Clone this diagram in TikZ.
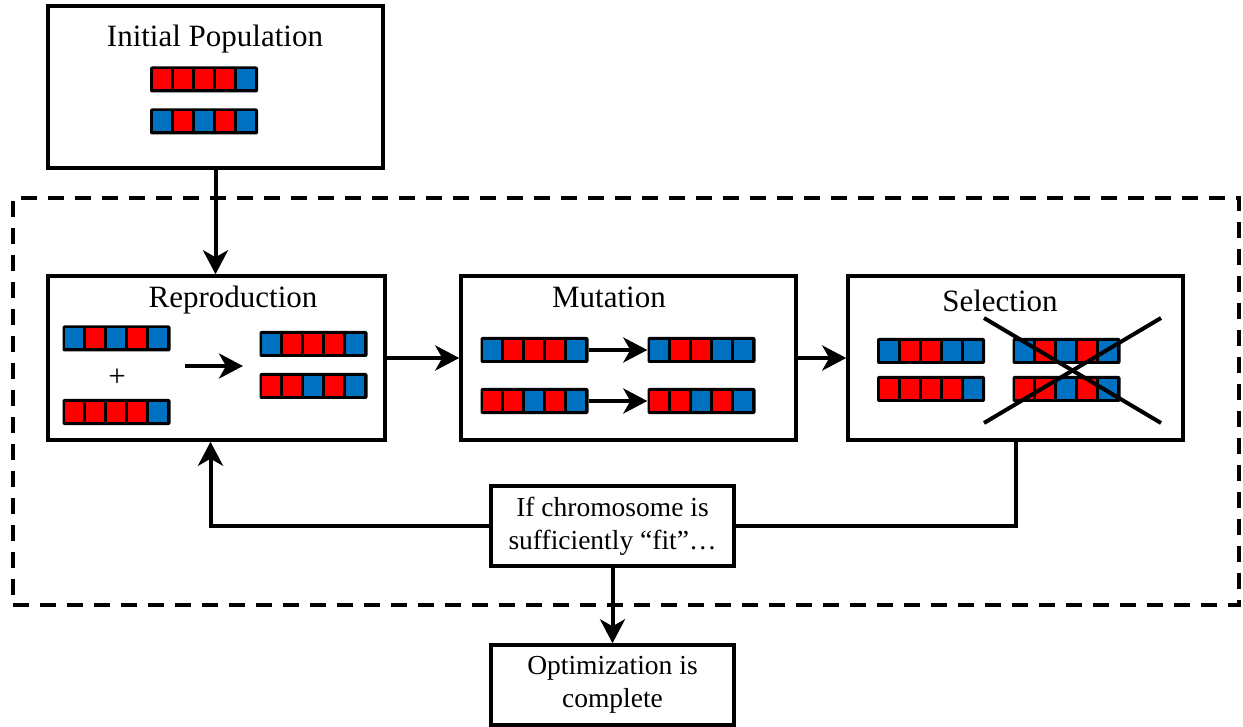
\documentclass[tikz,border=0pt]{standalone}
\usepackage{fontspec}
\setmainfont{Liberation Serif}
\usetikzlibrary{arrows.meta}
\definecolor{R}{RGB}{255,0,0}
\definecolor{B}{RGB}{0,112,192}
\tikzset{
	box/.style={draw, line width=3.5pt, minimum width=335pt, minimum height=164pt, inner sep=0pt},
	txtbox/.style={draw, line width=3.5pt, minimum width=243pt, minimum height=80pt, inner sep=0pt, align=center, font=\fontsize{27.5}{33}\selectfont},
	title/.style={anchor=base, inner sep=0pt, font=\fontsize{31}{36}\selectfont},
	chromo/.style={fill=black, rounded corners=2pt, minimum width=108pt, minimum height=26pt, inner sep=0pt},
	flow/.style={line width=4pt, -{Stealth[length=24pt, width=25pt, inset=7pt]}},
	link/.style={line width=4pt}
}
% chromosome: name, centre, genes
\newcommand{\chrom}[3]{
	\node [chromo] (#1) at (#2) {};
	\foreach \g [count=\i] in {#3} {
		\fill [\g] ([shift={(\i*21-18,-10)}]#1.west) rectangle ++(18,20);
	}
}
\begin{document}
\begin{tikzpicture}[x=1pt, y=-1pt]
	\useasboundingbox (0,0) rectangle (1243,727);
	% start
	\node [box, minimum height=162pt] (init) at (215.5,87) {};
	\node [title] (initT) at (215,47) {Initial Population};
	\chrom{init1}{204,79.5}{R,R,R,R,B}
	\chrom{init2}{204,121.5}{B,R,B,R,B}
	% loop
	\node [draw, dashed, line width=3.5pt, dash pattern=on 16pt off 11pt, minimum width=1226pt, minimum height=407pt] (loop) at (626,401.5) {};
	\node [box, minimum width=337pt] (rep) at (216.5,358) {};
	\node [box] (mut) at (628.5,358) {};
	\node [box] (sel) at (1015.5,358) {};
	\node [title] (repT) at (233,308) {Reproduction};
	\node [title] (mutT) at (609,308) {Mutation};
	\node [title] (selT) at (1000,312) {Selection};
	% reproduction
	\chrom{p1}{116.5,338.5}{B,R,B,R,B}
	\node [title] (plus) at (117,387) {+};
	\chrom{p2}{116.5,412}{R,R,R,R,B}
	\chrom{c1}{313.5,344}{B,R,R,R,B}
	\chrom{c2}{313.5,386}{R,R,B,R,B}
	\coordinate (crossA) at (185,366);
	\coordinate (crossB) at (243,366);
	\draw [flow] (crossA) -- (crossB);
	% mutation
	\chrom{m1}{534.5,350}{B,R,R,R,B}
	\chrom{m1b}{701.5,350}{B,R,R,B,B}
	\chrom{m2}{534.5,401}{R,R,B,R,B}
	\chrom{m2b}{701.5,401}{R,R,B,R,B}
	\draw [flow] (m1) -- (m1b);
	\draw [flow] (m2) -- (m2b);
	% selection
	\chrom{s1}{931,351}{B,R,R,B,B}
	\chrom{s2}{931,389}{R,R,R,R,B}
	\chrom{s3}{1066.5,351}{B,R,B,R,B}
	\chrom{s4}{1066.5,389}{R,R,B,R,B}
	\coordinate (xa) at (984,318);
	\coordinate (xb) at (1161,423);
	\coordinate (xc) at (984,423);
	\coordinate (xd) at (1161,318);
	\draw [link] (xa) -- (xb);
	\draw [link] (xc) -- (xd);
	% end
	\node [txtbox] (fit) at (612.5,526) {If chromosome is\\sufficiently “fit”…};
	\node [txtbox] (opt) at (612.5,685) {Optimization is\\complete};
	\draw [flow] (init.south) -- (init.south |- rep.north);
	\draw [flow] (rep) -- (mut);
	\draw [flow] (mut) -- (sel);
	\draw [link] (sel.south) |- (fit.east);
	\draw [flow] (fit.west) -| ([xshift=-6pt]rep.south);
	\draw [flow] (fit) -- (opt);
\end{tikzpicture}
\end{document}
